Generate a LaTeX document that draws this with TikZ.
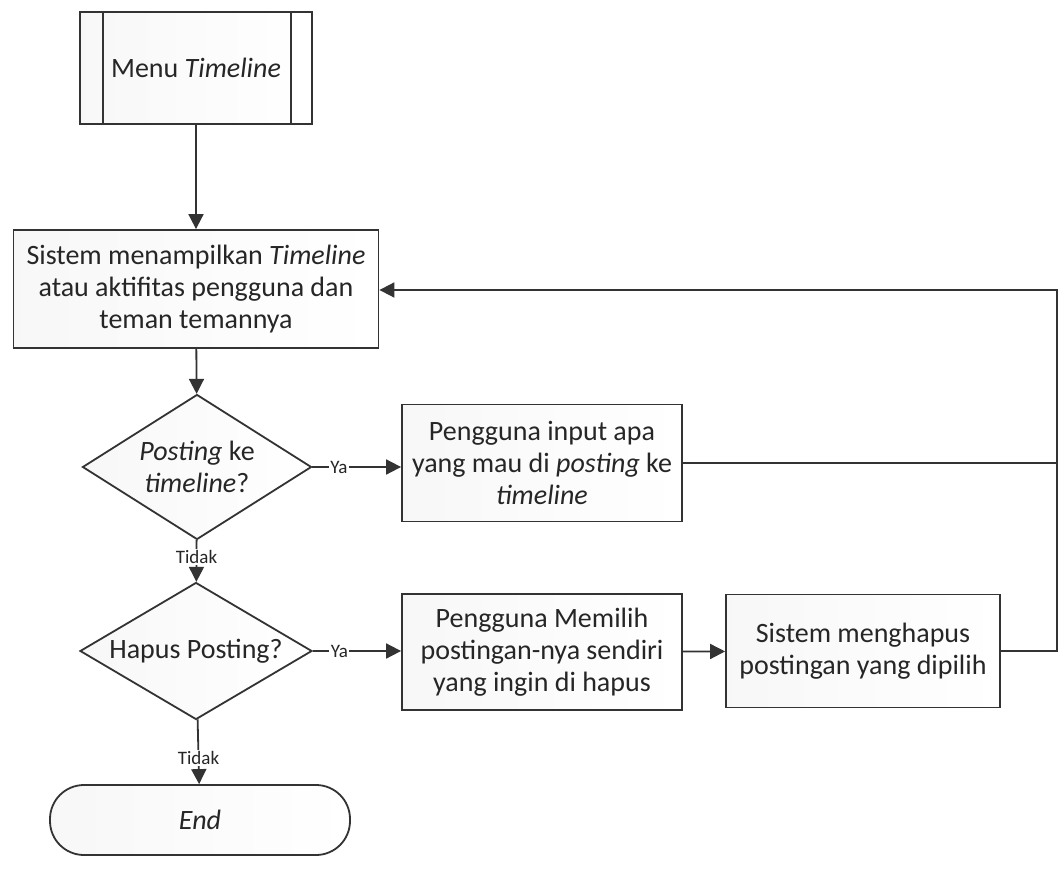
\documentclass[tikz,border=0pt]{standalone}
\usepackage{fontspec}
\setmainfont{Carlito}
\usetikzlibrary{shapes.geometric,arrows.meta}
\begin{document}
\begin{tikzpicture}[x=1pt,y=-1pt,
  line/.style={draw=black!80, line width=1.8pt},
  arr/.style={line, -{Triangle[length=15pt,width=15pt]}},
  boxfill/.style={left color=blue!7!black!3!white, right color=white},
  txt/.style={align=center, font=\fontsize{28}{32}\selectfont, text=black!85, inner sep=0pt},
  procbox/.style={draw=black!80, line width=1.8pt, boxfill, rectangle, txt},
  decbox/.style={draw=black!80, line width=1.8pt, boxfill, diamond, inner sep=0pt},
  lbl/.style={fill=white, inner sep=1.5pt, font=\fontsize{19}{21}\selectfont, text=black!85}
]
\useasboundingbox[fill=white] (0,0) rectangle (1059,890);

\node[procbox, minimum width=232pt, minimum height=112pt] (menu) at (196,68) {Menu \textit{Timeline}};
\draw[line] ([xshift=24pt]menu.north west) -- ([xshift=24pt]menu.south west);
\draw[line] ([xshift=-22pt]menu.north east) -- ([xshift=-22pt]menu.south east);

\node[procbox, minimum width=365pt, minimum height=118pt] (sys) at (196,289)
  {Sistem menampilkan \textit{Timeline}\\atau aktifitas pengguna dan\\teman temannya};

\node[decbox, minimum width=229pt, minimum height=145pt] (d1) at (197,467) {};
\node[txt] (d1t) at (d1.center) {\textit{Posting} ke\\\textit{timeline}?};

\node[procbox, minimum width=280pt, minimum height=117pt] (inp) at (542,463)
  {Pengguna input apa\\yang mau di \textit{posting} ke\\\textit{timeline}};

\node[decbox, minimum width=232pt, minimum height=137pt] (d2) at (196,651) {};
\node[txt] (d2t) at (d2.center) {Hapus Posting?};

\node[procbox, minimum width=280pt, minimum height=116pt] (pil) at (542,652)
  {Pengguna Memilih\\postingan-nya sendiri\\yang ingin di hapus};

\node[procbox, minimum width=274pt, minimum height=113pt] (hap) at (863,651)
  {Sistem menghapus\\postingan yang dipilih};

\node[procbox, rounded corners=34pt, minimum width=300pt, minimum height=70pt] (end) at (200,820)
  {\textit{End}};

\coordinate (c1) at (1057,463);
\coordinate (c2) at (1057,290);

\draw[arr] (menu) -- (sys);
\draw[arr] (sys) -- (d1);
\draw[arr] (d1.east) -- (inp.west |- d1.east) node[lbl, pos=0.3] {Ya};
\draw[arr] (d1) -- (d2) node[lbl, pos=0.4] {Tidak};
\draw[arr] (d2.east) -- (pil.west |- d2.east) node[lbl, pos=0.3] {Ya};
\draw[arr] (pil) -- (hap);
\draw[arr] (d2) -- (end) node[lbl, pos=0.6] {Tidak};
\draw[line] (inp.east) -- (c1);
\draw[arr] (hap.east) -- (1057,651) -- (c2) -- (sys.east |- c2);
\end{tikzpicture}
\end{document}
